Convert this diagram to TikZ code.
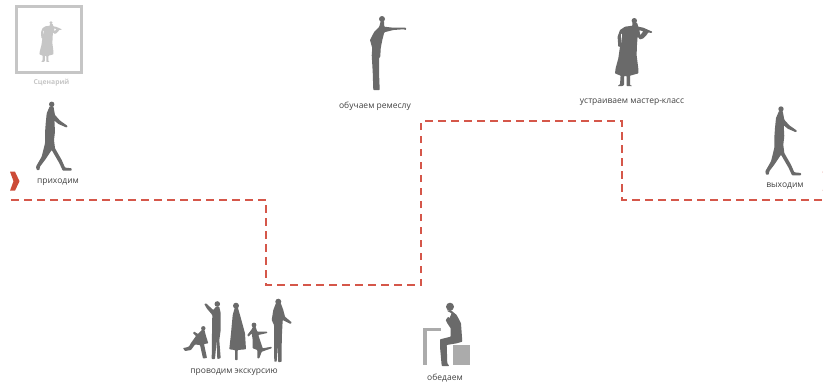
\documentclass[tikz,border=0pt]{standalone}
\usepackage{fontspec}
\setmainfont{Open Sans}
\definecolor{figgray}{HTML}{6A6A6A}
\definecolor{routered}{HTML}{D5574A}
\definecolor{chevred}{HTML}{CC4B37}
\definecolor{framegray}{HTML}{C6C6C6}
\definecolor{furngray}{HTML}{ABABAB}
\tikzset{
  walker/.pic={
    \fill[figgray] (0,0) circle (2.7);
    \fill[figgray, rounded corners=0.7pt] (1.7,2) -- (3.3,10.7) -- (8.3,16.3) -- (16,21.7) -- (15,23.3) -- (6.7,19.7) -- (2.7,16.3)
      -- (3.3,27.3) -- (2.3,35.7) -- (3.3,44) -- (10,55.7) -- (13.3,63.3) -- (20,64) -- (20,66.3) -- (11,66.3) -- (7.7,59)
      -- (0,45.7) -- (-6.7,55.7) -- (-11.7,62.3) -- (-12.3,65.7) -- (-15,65.7) -- (-15.7,62.3) -- (-10,52.3) -- (-6.7,39)
      -- (-6.7,29) -- (-6,19) -- (-5,9) -- (-2,2) -- cycle;
  },
  violinist/.pic={
    \path[pic actions] (0,0) circle (2.7);
    \path[pic actions, even odd rule, rounded corners=0.5pt] (-2,2) -- (2.7,2) -- (4,6) -- (9,7) -- (18,11) -- (17.3,12.3) -- (14,11.7) -- (12.3,14.3)
      -- (9,17.7) -- (5.7,18.7) -- (3.3,16) -- (2.7,24.3) -- (2.3,34.3) -- (4,47.7) -- (4,52.7) -- (-4.3,55) -- (-4.3,64.3)
      -- (-2,65.3) -- (-7.7,65.3) -- (-7.7,55.3) -- (-10.3,55.3) -- (-10.3,64.3) -- (-11.7,65.3) -- (-16.7,65.3) -- (-14.3,63.7)
      -- (-13.7,55) -- (-19.3,52.7) -- (-18.7,47.7) -- (-16,37.7) -- (-14.3,26) -- (-16,26) -- (-16.7,16) -- (-14.3,9.3)
      -- (-9.3,6) -- (-2,5) -- cycle
      (5,9.5) -- (9,10.5) -- (6,14.5) -- cycle
      (-13.5,13) -- (-12,13) -- (-13,24) -- cycle;
  },
  chevron/.pic={
    \fill[chevred] (0,-9.5) -- (5,-9.5) -- (9.5,0) -- (5,9.5) -- (0,9.5) -- (3.5,0) -- cycle;
  }
}
\begin{document}
\begin{tikzpicture}[x=1pt, y=-1pt,
  lbl/.style={font=\fontsize{8.5}{10}\selectfont, text=black!75, inner sep=1pt},
  fig/.style={fill=figgray, rounded corners=0.6pt},
  route/.style={routered, line width=2pt, dash pattern=on 7.5pt off 5.5pt}]
\useasboundingbox (0,0) rectangle (823,383);

\draw[framegray, line width=3pt] (16.5,6.5) rectangle (81.5,72.5);
\pic[scale=0.6, fill=framegray] at (51,22.7) {violinist};
\node[lbl, font=\fontsize{6.8}{8}\selectfont\bfseries, text=framegray] (lblscen) at (51.5,83) {Сценарий};

\pic at (51.7,104.3) {walker};
\pic at (781,109) {walker};
\node[lbl] (lblin) at (58,182) {приходим};
\node[lbl] (lblout) at (785,186) {выходим};

\foreach \cx in {10,822.6}{
  \pic at (\cx,181.2) {chevron};
}

\coordinate (start) at (11,200);
\coordinate (c1) at (266,200);
\coordinate (c2) at (266,285);
\coordinate (c3) at (421,285);
\coordinate (c4) at (421,121);
\coordinate (c5) at (622,121);
\coordinate (c6) at (622,200);
\coordinate (finish) at (823,200);
\draw[route] (start) -- (c1) -- (c2) -- (c3) -- (c4) -- (c5) -- (c6) -- (finish);

\fill[figgray] (382,19) circle (3);
\path[fig] (380.7,21) -- (384,21) -- (384.3,26.7) -- (393.3,27.7) -- (403.3,27.7) -- (406,27.7) -- (406,30) -- (403.3,29.3) -- (393.3,30)
  -- (384.3,32.3) -- (382.3,40) -- (380.7,48.3) -- (380.3,56.7) -- (379,58.3) -- (379,71.7) -- (379.7,90) -- (373.3,90) -- (372.7,71.7)
  -- (371.7,55) -- (372.3,48.3) -- (370,40) -- (374.3,31.7) -- (379.3,26.7) -- cycle;
\node[lbl] (lblcraft) at (375,106) {обучаем ремеслу};

\pic[fill=figgray] at (634.3,20.7) {violinist};
\node[lbl] (lblclass) at (632,102) {устраиваем мастер-класс};

\fill[figgray] (217.3,304) circle (2.8);
\path[fig] (204.3,304) -- (206,303.3) -- (213.3,310) -- (216,306.7) -- (219.3,306.7) -- (220.7,313.3) -- (220.7,330) -- (219.3,340)
  -- (220.7,358.3) -- (217.3,359) -- (216.7,340) -- (215,359) -- (211.7,359) -- (212,333.3) -- (212.3,315) -- (206.7,308.3) -- cycle;
\fill[figgray] (236,305.7) circle (3);
\path[fig] (235,307) -- (237.7,307) -- (240,315) -- (245,333.3) -- (246,349.3) -- (237.7,350) -- (237.7,360) -- (235,360) -- (235,350)
  -- (229.3,349.3) -- (231,333.3) -- (232.7,315) -- cycle;
\fill[figgray] (254,325) circle (2.4);
\path[fig] (253.3,326) -- (255.3,326) -- (257.3,331.7) -- (267.3,331.7) -- (267.3,333) -- (258.3,335) -- (260,340) -- (262.7,348.3)
  -- (271.7,346.7) -- (271.7,348.3) -- (261.7,351.7) -- (259.3,358.3) -- (257.3,358.3) -- (257.3,350) -- (252.7,348.3) -- (252.7,340)
  -- (251.7,333.3) -- (248.3,336.7) -- (247.3,335) -- (251.7,329.3) -- cycle;
\fill[figgray] (203.3,328.3) circle (2.2);
\path[fig] (202.3,329.5) -- (204.3,329.5) -- (206,336) -- (208.3,343.3) -- (204,344) -- (207,358) -- (203,358.5) -- (200,345) -- (195,344.5)
  -- (191,350) -- (185,351) -- (183,348) -- (186,347.5) -- (189,346.5) -- (191,343) -- (196,336) -- (193,333.3) -- (194,331.5) -- (198,334) -- cycle;
\fill[figgray] (278.3,301.7) circle (3);
\path[fig] (276,303) -- (280.7,303) -- (283.3,310) -- (285,316.7) -- (291.7,322.3) -- (290.7,324) -- (282.7,320) -- (282,333.3) -- (281.7,345)
  -- (281.7,361.7) -- (278.3,362.3) -- (277.3,345) -- (276.7,361.7) -- (274.3,361.7) -- (274,343.3) -- (274,325) -- (271.7,320) -- (273.3,310) -- cycle;
\node[lbl] (lblexc) at (234,372) {проводим экскурсию};

\fill[furngray] (422.7,327.7) rectangle (440.7,331);
\fill[furngray] (422.7,327.7) rectangle (426.7,365);
\fill[furngray] (452.7,345) rectangle (470,365);
\fill[figgray] (450,306.7) circle (4);
\path[fig] (446.7,310.7) -- (450.7,310) -- (456.7,315) -- (461,323.3) -- (462.3,341.7) -- (456.7,343.3) -- (446.7,345) -- (447.3,363.3) -- (449.3,366)
  -- (441.7,366) -- (440,346.7) -- (440,339.3) -- (450.7,336.7) -- (450.7,328.3) -- (447.3,323.3) -- (445.7,320) -- (448.3,316.7) -- (449.3,318.3)
  -- (451.7,313.3) -- cycle;
\node[lbl] (lbldin) at (445,378) {обедаем};
\end{tikzpicture}
\end{document}
